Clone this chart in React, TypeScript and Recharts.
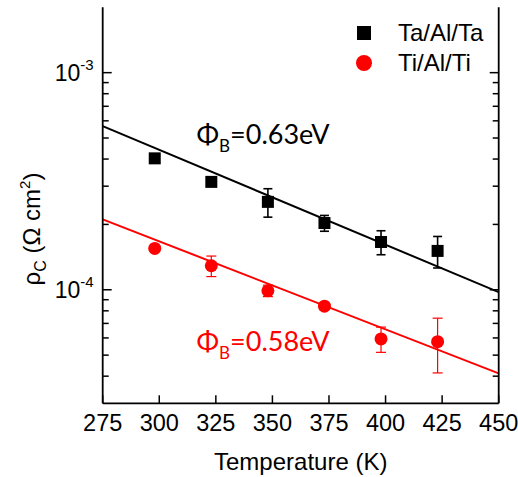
import React from 'react';
import {
  ComposedChart,
  XAxis,
  YAxis,
  Scatter,
  Line,
  ErrorBar,
  Legend,
  ReferenceDot,
} from 'recharts';

// measured points (T in K, rho_c in ohm cm^2)
const temps = [298, 323, 348, 373, 398, 423];
const taRho = [4.03e-4, 3.14e-4, 2.54e-4, 2.03e-4, 1.66e-4, 1.51e-4];
const taErr = [0.1e-4, 0.13e-4, 0.38e-4, 0.17e-4, 0.21e-4, 0.25e-4];
const tiRho = [1.55e-4, 1.29e-4, 0.99e-4, 0.84e-4, 0.594e-4, 0.577e-4];
const tiErr = [0.05e-5, 0.14e-4, 0.06e-4, 0.03e-4, 0.079e-4, 0.163e-4];

// fit lines (end points)
const fitT = [275, 450];
const taFit = [5.67e-4, 9.75e-5];
const tiFit = [2.11e-4, 4.12e-5];

const xTicks = [275, 300, 325, 350, 375, 400, 425, 450];
const yTicks = [
  4e-5, 5e-5, 6e-5, 7e-5, 8e-5, 9e-5, 1e-4, 2e-4, 3e-4, 4e-4, 5e-4, 6e-4, 7e-4, 8e-4, 9e-4, 1e-3,
];

const notes = [
  { t: 316.5, rho: 4.69e-4, text: '=0.63eV', color: '#000000' },
  { t: 316.5, rho: 5.25e-5, text: '=0.58eV', color: '#ff0000' },
];

const RED = '#ff0000';
const SANS = '"Liberation Sans", Arial, sans-serif';

const taData = temps.map((t, i) => ({ t, rho: taRho[i], err: taErr[i] }));
const tiData = temps.map((t, i) => ({ t, rho: tiRho[i], err: tiErr[i] }));
const taFitData = fitT.map((t, i) => ({ t, rho: taFit[i] }));
const tiFitData = fitT.map((t, i) => ({ t, rho: tiFit[i] }));

const isDecade = (v: number) => {
  const lg = Math.log10(v);
  return Math.abs(lg - Math.round(lg)) < 1e-6;
};

const LeftTick = ({ x, y, payload }: any) => {
  const major = isDecade(payload.value);
  return (
    <g>
      <line x1={x} x2={x + (major ? 9 : 6)} y1={y} y2={y} stroke="#000" strokeWidth={1.5} />
      {major && (
        <text x={x - 9} y={y + 8.5} textAnchor="end" fontSize={23} fontFamily={SANS} fill="#000">
          10
          <tspan dy={-11} fontSize={15}>
            {Math.round(Math.log10(payload.value))}
          </tspan>
        </text>
      )}
    </g>
  );
};

const RightTick = ({ x, y, payload }: any) => {
  const major = isDecade(payload.value);
  return <line x1={x} x2={x - (major ? 9 : 6)} y1={y} y2={y} stroke="#000" strokeWidth={1.5} />;
};

const BottomTick = ({ x, y, payload }: any) => (
  <g>
    <line x1={x} x2={x} y1={y} y2={y - 8} stroke="#000" strokeWidth={1.5} />
    <text x={x} y={y + 28} textAnchor="middle" fontSize={23.5} fontFamily={SANS} fill="#000">
      {payload.value}
    </text>
  </g>
);

const Square = ({ cx, cy }: any) => <rect x={cx - 6} y={cy - 6} width={12} height={12} fill="#000" />;
const Dot = ({ cx, cy }: any) => <circle cx={cx} cy={cy} r={6.5} fill={RED} />;

const LegendContent = ({ payload }: any) => (
  <div style={{ fontFamily: SANS, fontSize: 24, color: '#000' }}>
    {(payload || [])
      .filter((p: any) => p.type === 'square' || p.type === 'circle')
      .map((p: any) => (
        <div key={p.value} style={{ display: 'flex', alignItems: 'center', height: 30 }}>
          <svg width={44} height={30}>
            {p.type === 'square' ? (
              <rect x={3} y={8} width={14} height={14} fill={p.color} />
            ) : (
              <circle cx={10} cy={15} r={8} fill={p.color} />
            )}
          </svg>
          <span>{p.value}</span>
        </div>
      ))}
  </div>
);

const NoteLabel = (note: { text: string; color: string }) => (props: any) => {
  const { x, y } = props.viewBox;
  return (
    <text x={x} y={y} fill={note.color} fontFamily='Lato, "Open Sans", sans-serif' fontSize={27}>
      Φ
      <tspan dy={8} fontSize={17}>
        B
      </tspan>
      <tspan dy={-8}>{note.text}</tspan>
    </text>
  );
};

const XTitle = (props: any) => {
  const { x, y, width } = props.viewBox;
  return (
    <text x={x + width / 2} y={y + 67} textAnchor="middle" fontSize={24} fontFamily={SANS} fill="#000">
      Temperature (K)
    </text>
  );
};

const YTitle = () => (
  <text
    transform="translate(40, 229) rotate(-90)"
    textAnchor="middle"
    fontSize={24}
    fontFamily={SANS}
    fill="#000"
  >
    ρ
    <tspan dy={6} fontSize={16}>
      C
    </tspan>
    <tspan dy={-6}> (Ω cm</tspan>
    <tspan dy={-10} fontSize={15}>
      2
    </tspan>
    <tspan dy={10}>)</tspan>
  </text>
);

export default function App() {
  return (
    <div style={{ position: 'absolute', left: 0, top: 0, background: '#fff' }}>
      <ComposedChart width={518} height={477} margin={{ top: 7.3, right: 18.3, bottom: 0, left: 0 }}>
        <XAxis
          dataKey="t"
          type="number"
          domain={[275, 450]}
          ticks={xTicks}
          interval={0}
          allowDataOverflow
          height={73.7}
          tickSize={0}
          tickMargin={0}
          tickLine={false}
          tick={<BottomTick />}
          axisLine={{ stroke: '#000', strokeWidth: 1.8 }}
          label={<XTitle />}
        />
        <XAxis
          xAxisId="top"
          orientation="top"
          type="number"
          domain={[275, 450]}
          allowDataOverflow
          height={0}
          tick={false}
          tickLine={false}
          axisLine={{ stroke: '#000', strokeWidth: 1.8 }}
        />
        <YAxis
          dataKey="rho"
          scale="log"
          domain={[3e-5, 2e-3]}
          allowDataOverflow
          ticks={yTicks}
          interval={0}
          width={102.7}
          tickSize={0}
          tickMargin={0}
          tickLine={false}
          tick={<LeftTick />}
          axisLine={{ stroke: '#000', strokeWidth: 1.8 }}
          label={<YTitle />}
        />
        <YAxis
          yAxisId="right"
          orientation="right"
          scale="log"
          domain={[3e-5, 2e-3]}
          allowDataOverflow
          ticks={yTicks}
          interval={0}
          width={1}
          tickSize={0}
          tickMargin={0}
          tickLine={false}
          tick={<RightTick />}
          axisLine={{ stroke: '#000', strokeWidth: 1.8 }}
        />
        <Line
          data={taFitData}
          dataKey="rho"
          type="linear"
          stroke="#000"
          strokeWidth={2}
          dot={false}
          activeDot={false}
          legendType="none"
          isAnimationActive={false}
        />
        <Line
          data={tiFitData}
          dataKey="rho"
          type="linear"
          stroke={RED}
          strokeWidth={2}
          dot={false}
          activeDot={false}
          legendType="none"
          isAnimationActive={false}
        />
        <Scatter
          name="Ta/Al/Ta"
          data={taData}
          dataKey="rho"
          fill="#000"
          legendType="square"
          shape={<Square />}
          isAnimationActive={false}
        >
          <ErrorBar dataKey="err" direction="y" width={4.5} stroke="#000" strokeWidth={1.6} isAnimationActive={false} />
        </Scatter>
        <Scatter
          name="Ti/Al/Ti"
          data={tiData}
          dataKey="rho"
          fill={RED}
          legendType="circle"
          shape={<Dot />}
          isAnimationActive={false}
        >
          <ErrorBar dataKey="err" direction="y" width={5} stroke={RED} strokeWidth={1.2} isAnimationActive={false} />
        </Scatter>
        {notes.map((n) => (
          <ReferenceDot
            key={n.text}
            x={n.t}
            y={n.rho}
            r={0}
            stroke="none"
            fill="none"
            label={NoteLabel(n)}
          />
        ))}
        <Legend
          layout="vertical"
          align="center"
          verticalAlign="middle"
          content={<LegendContent />}
          wrapperStyle={{ left: 354, top: 18, width: 'auto' }}
        />
      </ComposedChart>
    </div>
  );
}
